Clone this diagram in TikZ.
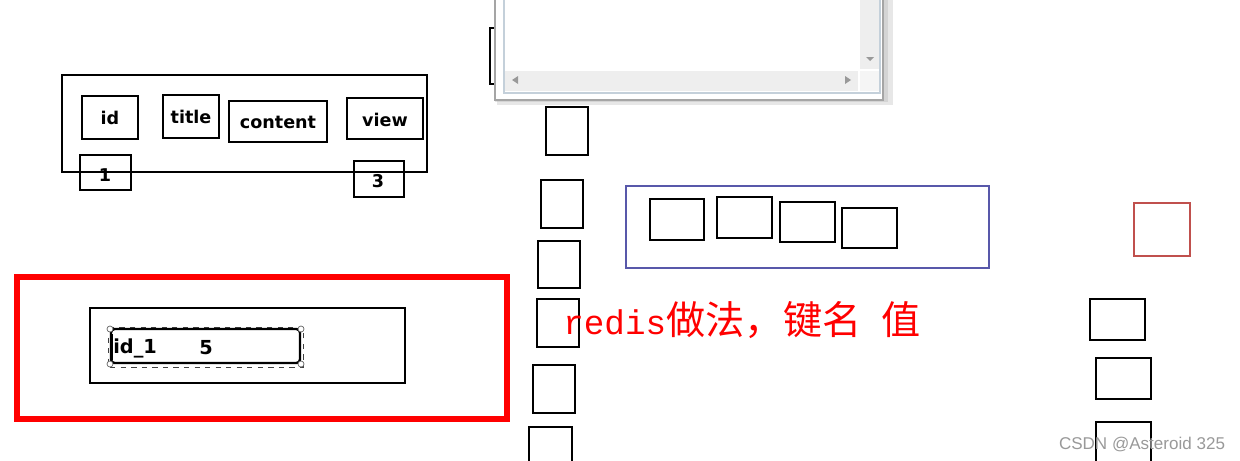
\documentclass[tikz,border=0pt]{standalone}
\usepackage{fontspec}
\setmainfont{DejaVu Sans}
\newfontfamily\cjkfont{Noto Sans CJK SC}
\newfontfamily\codefont{Liberation Mono}
\newfontfamily\markfont{Liberation Sans}
\definecolor{keyred}{RGB}{255,0,0}
\definecolor{setblue}{RGB}{88,88,170}
\definecolor{softred}{RGB}{192,80,77}
\definecolor{framegray}{RGB}{165,165,165}
\definecolor{bargray}{RGB}{238,238,238}
\definecolor{paneledge}{RGB}{196,208,218}
\tikzset{
  cell/.style={draw=black, line width=1.4pt},
  fieldtext/.style={font=\bfseries\fontsize{10}{12}\selectfont, inner sep=0pt},
  handle/.style={draw=black!60, fill=white, line width=0.4pt}
}

\begin{document}
\begin{tikzpicture}[x=0.02cm, y=-0.02cm]
\clip (0,0) rectangle (1240,460);
\fill[white] (0,0) rectangle (1240,460);

\draw[cell] (490,28) rectangle (540,84);
\fill[black!30, opacity=0.3] (497,-5) rectangle (893,105);
\fill[black!30, opacity=0.35] (495,-5) rectangle (888,102);
\draw[framegray, fill=white, line width=0.8pt] (495,-5) rectangle (883,100);
\draw[paneledge, fill=white, line width=0.8pt] (504,-5) rectangle (880,93);
\fill[bargray] (505,71) rectangle (858,91);
\fill[bargray] (860,-5) rectangle (879,69);
\fill[bargray!60] (860,71) rectangle (879,91);
\fill[black!40] (512,80) -- (518,76) -- (518,84) -- cycle;
\fill[black!40] (851,80) -- (845,76) -- (845,84) -- cycle;
\fill[black!40] (866,57) -- (874,57) -- (870,61) -- cycle;

\draw[cell] (62,75) rectangle (427,172);
\draw[cell] (82,96) rectangle (138,139);
\draw[cell] (163,95) rectangle (219,138);
\draw[cell] (229,101) rectangle (327,142);
\draw[cell] (347,98) rectangle (423,139);
\draw[cell] (80,155) rectangle (131,190);
\draw[cell] (354,161) rectangle (404,197);
\node[fieldtext] (idhead) at (110,118) {id};
\node[fieldtext] (titlehead) at (191,117) {title};
\node[fieldtext] (contenthead) at (278,122) {content};
\node[fieldtext] (viewhead) at (385,120) {view};
\node[fieldtext] (idval) at (105,175) {1};
\node[fieldtext] (viewval) at (378,181) {3};

\draw[draw=keyred, line width=3pt] (17,277) rectangle (507,419);
\draw[cell] (90,308) rectangle (405,383);
\draw[black!75, dashed, line width=0.5pt] (108,327) rectangle (303,367);
\draw[black, line width=1.4pt, rounded corners=2pt] (111,329) rectangle (300,363);
\foreach \hx in {110,301}
  \foreach \hy in {329,364}
    \draw[handle] (\hx,\hy) circle (3);
\draw[line width=0.9pt] (112,334) -- (112,360);
\node[fieldtext, font=\bfseries\fontsize{11}{13}\selectfont, anchor=west] (keyname) at (113,348) {id\_1};
\node[fieldtext, font=\bfseries\fontsize{11}{13}\selectfont] (keyvalue) at (206,348) {5};

\draw[cell] (546,107) rectangle (588,155);
\draw[cell] (541,180) rectangle (583,228);
\draw[cell] (538,241) rectangle (580,288);
\draw[cell] (537,299) rectangle (579,347);
\draw[cell] (533,365) rectangle (575,413);
\draw[cell] (529,427) rectangle (572,475);

\draw[setblue, line width=1.1pt] (626,186) rectangle (989,268);
\draw[cell] (650,199) rectangle (704,240);
\draw[cell] (717,197) rectangle (772,238);
\draw[cell] (780,202) rectangle (835,242);
\draw[cell] (842,208) rectangle (897,248);

\node[anchor=base west, inner sep=0pt, text=keyred] (redisnote) at (563,334)
  {\codefont\fontsize{19.5}{22}\selectfont redis\cjkfont\fontsize{22.3}{26}\selectfont 做法，键名\hspace{0.5em}值};

\draw[softred, line width=1.3pt] (1134,203) rectangle (1190,256);
\draw[cell] (1090,299) rectangle (1145,340);
\draw[cell] (1096,358) rectangle (1151,399);
\draw[cell] (1096,422) rectangle (1151,470);

\node[text=black!40, font=\markfont\fontsize{9.7}{11}\selectfont] (watermark) at (1142,444) {CSDN @Asteroid 325};
\end{tikzpicture}
\end{document}
